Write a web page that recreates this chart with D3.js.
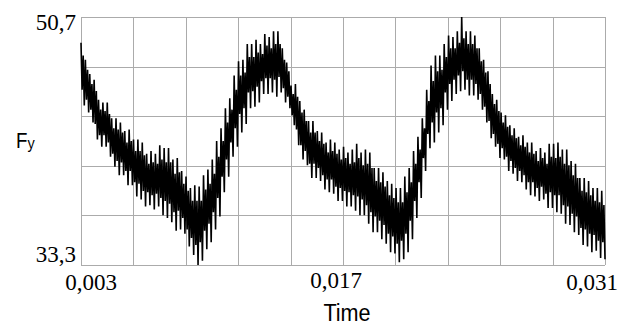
<!DOCTYPE html>
<html><head><meta charset="utf-8">
<script src="https://cdn.jsdelivr.net/npm/d3@7"></script>
<style>
html,body{margin:0;padding:0;background:#fff;}
svg{display:block;}
</style></head>
<body>
<svg id="chart" width="618" height="325"></svg>
<script>
// ---- data ----
const timeRange = [0.003, 0.031];
const forceRange = [33.3, 50.7];
const xGridValues = [0.003,0.0058,0.0086,0.0114,0.0142,0.017,0.0198,0.0226,0.0254,0.0282,0.031];
const yGridValues = [33.3,36.78,40.26,43.74,47.22,50.7];
const xTickValues = [0.003, 0.017, 0.031];
const xTickLabels = ["0,003","0,017","0,031"];
const yTickValues = [50.7, 33.3];
const yTickLabels = ["50,7","33,3"];
// peak (upper spike) value of each oscillation cycle
const cycleTops = [
48.9,47.7,46.7,46.3,44.9,44.7,44.7,43.6,43.6,43.3,
42.7,42.8,42.1,42.1,41.9,41.1,41.3,41.1,41.7,41.5,
41.5,40.7,40.8,39.9,39.5,38.7,38.9,38.8,39.6,40.0,
40.7,42.0,42.9,44.3,45.0,46.6,47.6,47.7,48.8,48.8,
49.1,48.8,49.5,49.3,49.7,49.7,48.5,47.5,45.9,46.0,
44.8,44.2,43.4,43.4,42.7,42.6,41.9,42.1,41.9,41.4,
41.6,41.2,41.4,41.8,41.2,41.4,41.2,40.1,40.1,39.8,
39.2,39.0,38.7,38.7,39.5,40.1,41.3,42.3,43.6,45.6,
47.3,48.0,48.0,48.8,49.4,49.3,49.7,50.7,49.7,49.7,
49.4,48.5,47.7,46.9,45.3,44.9,44.0,43.8,43.1,42.9,
42.3,42.4,41.9,41.9,41.3,41.5,41.2,41.8,41.8,41.9,
41.4,41.4,40.6,40.4,39.4,39.4,39.2,38.7,38.7,38.5
];
// lower edge of the dense core within each cycle
const coreLows = [
45.6,44.9,44.2,43.2,42.4,42.4,41.9,41.1,40.6,40.5,
39.9,39.9,39.1,39.0,38.5,38.4,38.2,38.3,38.0,37.8,
37.6,37.0,37.1,36.6,35.8,35.2,34.7,34.9,35.7,36.2,
37.0,38.0,39.5,40.7,41.9,42.9,43.9,44.3,45.4,45.5,
45.8,46.2,46.4,46.4,46.3,46.5,45.7,45.1,43.8,42.8,
41.7,41.3,40.4,40.4,40.1,39.6,39.3,39.3,38.8,38.7,
38.5,38.4,38.2,38.1,37.9,37.5,37.0,36.7,36.4,36.1,
35.5,35.3,34.8,35.0,35.5,36.4,37.8,39.1,40.8,42.5,
43.3,44.0,44.3,45.4,46.0,46.3,46.6,46.9,46.3,46.3,
46.0,45.3,44.4,43.4,42.5,41.8,41.5,40.9,40.6,40.1,
39.9,39.6,39.1,39.1,38.7,38.8,38.3,38.4,38.2,38.2,
37.5,37.4,36.9,36.7,35.9,35.8,35.5,35.4,35.0,34.9
];
// upper edge of the dense core within each cycle
const coreHighs = [
48.0,47.0,46.0,45.5,44.2,44.1,43.9,42.9,42.8,42.6,
41.9,42.0,41.3,41.3,41.0,40.4,40.5,40.4,40.7,40.5,
40.5,39.7,39.8,39.0,38.5,37.8,37.8,37.8,38.6,39.0,
39.7,40.9,42.0,43.3,44.2,45.6,46.6,46.8,47.9,47.9,
48.2,48.1,48.7,48.5,48.8,48.8,47.7,46.9,45.3,45.1,
44.0,43.4,42.6,42.6,42.0,41.8,41.2,41.3,41.1,40.7,
40.8,40.4,40.5,40.8,40.3,40.4,40.1,39.2,39.1,38.8,
38.2,38.0,37.7,37.7,38.4,39.1,40.4,41.4,42.9,44.8,
46.2,46.9,47.0,47.9,48.5,48.5,48.9,49.2,48.8,48.8,
48.5,47.6,46.8,46.0,44.6,44.1,43.3,43.0,42.4,42.2,
41.7,41.6,41.2,41.1,40.6,40.8,40.4,40.9,40.8,40.9,
40.4,40.3,39.6,39.4,38.5,38.4,38.2,37.8,37.7,37.5
];
// trough (lower spike) value of each oscillation cycle
const cycleBottoms = [
44.5,44.0,43.3,42.1,41.6,41.6,40.9,40.2,39.6,39.6,
38.9,38.9,38.1,37.9,37.4,37.5,37.2,37.4,36.8,36.6,
36.3,35.7,35.8,35.5,34.6,34.0,33.3,33.6,34.4,34.9,
35.8,36.7,38.4,39.5,40.9,41.6,42.6,43.2,44.3,44.4,
44.7,45.3,45.3,45.4,45.1,45.4,44.7,44.3,43.1,41.7,
40.7,40.3,39.4,39.4,39.2,38.6,38.4,38.3,37.8,37.8,
37.4,37.4,37.1,36.8,36.8,36.2,35.6,35.6,35.1,34.8,
34.2,34.1,33.5,33.7,34.2,35.1,36.6,38.0,39.9,41.5,
41.9,42.6,43.1,44.2,44.8,45.3,45.5,45.6,45.2,45.2,
44.9,44.2,43.3,42.2,41.6,40.8,40.7,39.9,39.7,39.2,
39.1,38.6,38.2,38.1,37.8,37.9,37.3,37.3,37.0,36.9,
36.2,36.1,35.6,35.4,34.7,34.6,34.2,34.3,33.8,33.7
];

// ---- layout ----
const svg = d3.select("#chart");
const plot = {left: 81, right: 605, top: 17, bottom: 265};
const x = d3.scaleLinear().domain(timeRange).range([plot.left, plot.right]);
const y = d3.scaleLinear().domain(forceRange).range([plot.bottom, plot.top]);

// grid
const grid = svg.append("g").attr("stroke", "#ababab").attr("stroke-width", 1).attr("shape-rendering","crispEdges");
grid.selectAll("line.v").data(xGridValues).join("line").attr("class","v")
  .attr("x1", d => Math.round(x(d)) + 0.5).attr("x2", d => Math.round(x(d)) + 0.5)
  .attr("y1", plot.top).attr("y2", plot.bottom);
grid.selectAll("line.h").data(yGridValues).join("line").attr("class","h")
  .attr("y1", d => Math.round(y(d)) + 0.5).attr("y2", d => Math.round(y(d)) + 0.5)
  .attr("x1", plot.left).attr("x2", plot.right);

// signal: each cycle = upper spike, core low, core high, lower spike; samples spread evenly in time
const seq = [];
cycleTops.forEach((v, i) => { seq.push(v, coreLows[i], coreHighs[i], cycleBottoms[i]); });
const sampleTime = d3.scaleLinear().domain([0, seq.length - 1]).range(timeRange);
const pts = seq.map((v, k) => [sampleTime(k), v]);
const line = d3.line().x(d => x(d[0])).y(d => y(d[1]));
svg.append("path").datum(pts).attr("d", line)
  .attr("fill","none").attr("stroke","#000").attr("stroke-width",1.6)
  .attr("stroke-linejoin","bevel");

// tick labels
const serif = "'Liberation Serif','Times New Roman',serif";
const sans = "'Liberation Sans',Arial,sans-serif";
const xOffsets = [10, -7, -13];
const xBase = [290, 288, 290];
svg.selectAll("text.xt").data(xTickValues).join("text").attr("class","xt")
  .attr("x", (d,i) => x(d) + xOffsets[i]).attr("y", (d,i) => xBase[i])
  .attr("text-anchor","middle").attr("font-family", serif).attr("font-size", 23)
  .attr("fill","#000").text((d,i) => xTickLabels[i]);
const yOffsets = [13, -3];
svg.selectAll("text.yt").data(yTickValues).join("text").attr("class","yt")
  .attr("x", 76).attr("y", (d,i) => y(d) + yOffsets[i])
  .attr("text-anchor","end").attr("font-family", serif).attr("font-size", 23)
  .attr("fill","#000").text((d,i) => yTickLabels[i]);

// axis titles
svg.append("text").attr("transform","translate(347,321) scale(0.9,1)")
  .attr("text-anchor","middle").attr("font-family", sans).attr("font-size", 24)
  .attr("fill","#000").text("Time");
const fy = svg.append("text").attr("transform","translate(16,148) scale(0.85,1)")
  .attr("font-family", sans).attr("fill","#000");
fy.append("tspan").attr("font-size", 22).text("F");
fy.append("tspan").attr("font-size", 17).attr("dy", 1).text("y");
</script>
</body></html>
